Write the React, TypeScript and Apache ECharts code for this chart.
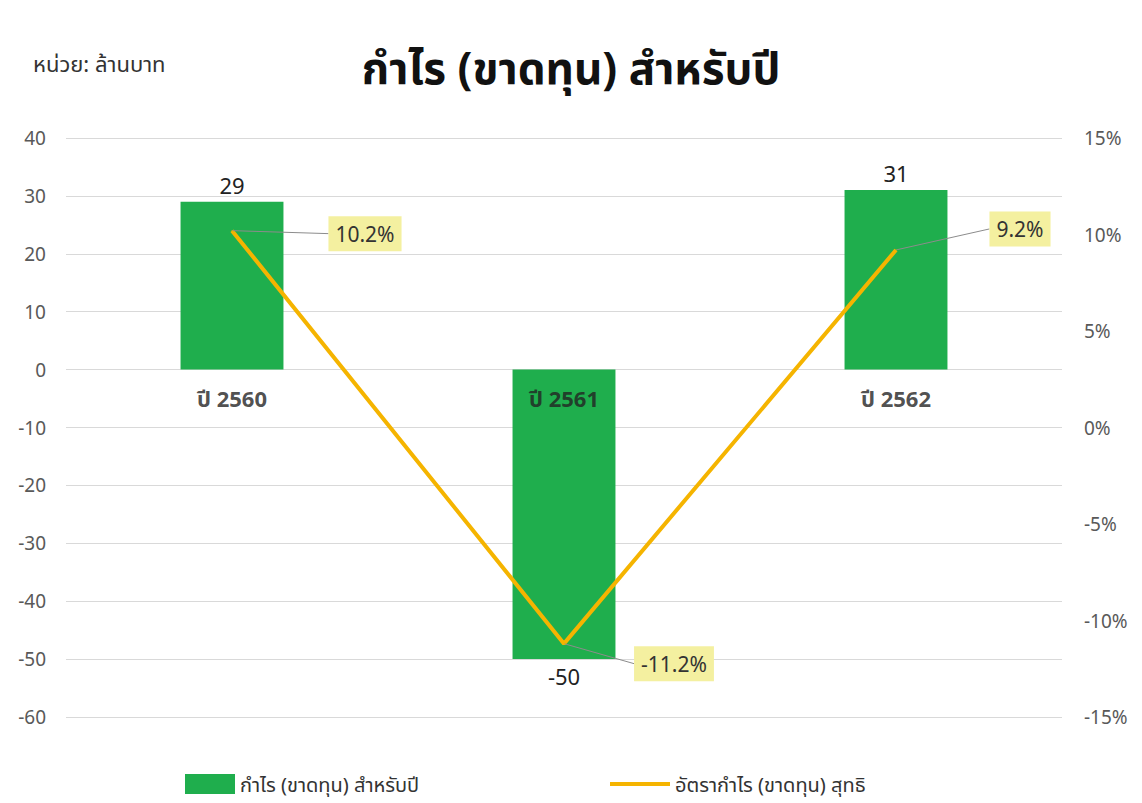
import React, { useEffect, useRef } from "react";
import * as echarts from "echarts";

const categories = ["ปี 2560", "ปี 2561", "ปี 2562"];
const profitValues = [29, -50, 31];
const marginValues = [10.2, -11.2, 9.2];
const leftTicks = { min: -60, max: 40, interval: 10 };
const rightTicks = { min: -15, max: 15, interval: 5 };
const barName = "กำไร (ขาดทุน) สำหรับปี";
const lineName = "อัตรากำไร (ขาดทุน) สุทธิ";
const labelOffsets = [
  [133, 3],
  [110, 20],
  [124, -21],
];

const FONT = "'Noto Sans', 'Noto Sans Thai', Tahoma, sans-serif";
const GREEN = "#1fae4d";
const ORANGE = "#f5b400";

export default function App() {
  const ref = useRef<HTMLDivElement>(null);
  useEffect(() => {
    if (!ref.current) return;
    const chart = echarts.init(ref.current, undefined, { renderer: "svg" });
    chart.setOption({
      animation: false,
      backgroundColor: "#ffffff",
      textStyle: { fontFamily: FONT },
      title: [
        {
          text: "กำไร (ขาดทุน) สำหรับปี",
          left: "center",
          top: 40,
          textStyle: { fontSize: 44, fontWeight: "bold", color: "#111", fontFamily: FONT },
        },
        {
          text: "หน่วย: ล้านบาท",
          left: 28,
          top: 47,
          textStyle: { fontSize: 22, fontWeight: "normal", color: "#333", fontFamily: FONT },
        },
      ],
      legend: [
        {
          top: 769,
          left: 180,
          itemWidth: 50,
          itemHeight: 20,
          itemGap: 6,
          textStyle: { fontSize: 20, color: "#333", fontFamily: FONT },
          data: [{ name: barName, icon: "rect" }],
        },
        {
          top: 769,
          left: 605,
          itemWidth: 60,
          itemHeight: 4,
          itemGap: 4,
          textStyle: { fontSize: 20, color: "#333", fontFamily: FONT },
          data: [{ name: lineName, icon: "rect", itemStyle: { color: ORANGE } }],
        },
      ],
      grid: { left: 66, right: 80, top: 138, bottom: 86 },
      xAxis: {
        type: "category",
        data: categories,
        axisLine: { show: false },
        axisTick: { show: false },
        axisLabel: { show: false },
      },
      yAxis: [
        {
          type: "value",
          min: leftTicks.min,
          max: leftTicks.max,
          interval: leftTicks.interval,
          axisLine: { show: false },
          axisTick: { show: false },
          axisLabel: { fontSize: 19, color: "#595959", margin: 20, fontFamily: FONT },
          splitLine: { lineStyle: { color: "#d9d9d9", width: 1 } },
        },
        {
          type: "value",
          min: rightTicks.min,
          max: rightTicks.max,
          interval: rightTicks.interval,
          axisLine: { show: false },
          axisTick: { show: false },
          axisLabel: { fontSize: 19, color: "#595959", margin: 22, formatter: "{value}%", fontFamily: FONT },
          splitLine: { show: false },
        },
      ],
      series: [
        {
          name: barName,
          type: "bar",
          yAxisIndex: 0,
          barWidth: "31%",
          itemStyle: { color: GREEN },
          data: profitValues.map((v) => ({
            value: v,
            label: { position: v < 0 ? "bottom" : "top" },
          })),
          label: {
            show: true,
            fontSize: 22,
            color: "#222",
            distance: 6,
            fontFamily: FONT,
          },
        },
        {
          name: "categoryLabels",
          type: "scatter",
          yAxisIndex: 0,
          symbolSize: 0,
          z: 4,
          silent: true,
          data: categories.map((c) => [c, 0]),
          label: {
            show: true,
            position: "bottom",
            distance: 17,
            formatter: (p: any) => p.name || p.value[0],
            fontSize: 22,
            fontWeight: "bold",
            color: "#222",
            fontFamily: FONT,
          },
        },
        {
          name: lineName,
          type: "line",
          yAxisIndex: 1,
          symbol: "circle",
          symbolSize: 1,
          showSymbol: true,
          z: 5,
          lineStyle: { color: ORANGE, width: 4 },
          itemStyle: { color: ORANGE },
          data: marginValues,
          label: {
            show: true,
            position: "inside",
            formatter: "{c}%",
            fontSize: 21,
            color: "#333",
            backgroundColor: "#f4f0a0",
            padding: [7, 7, 7, 7],
            fontFamily: FONT,
          },
          labelLine: { show: true, lineStyle: { color: "#8c8c8c", width: 1 } },
          labelLayout: (params: any) => ({
            dx: labelOffsets[params.dataIndex][0],
            dy: labelOffsets[params.dataIndex][1],
          }),
        },
      ],
    });
    return () => chart.dispose();
  }, []);
  return (
    <div
      ref={ref}
      style={{ position: "fixed", left: 0, top: 0, width: 1142, height: 803 }}
    />
  );
}
